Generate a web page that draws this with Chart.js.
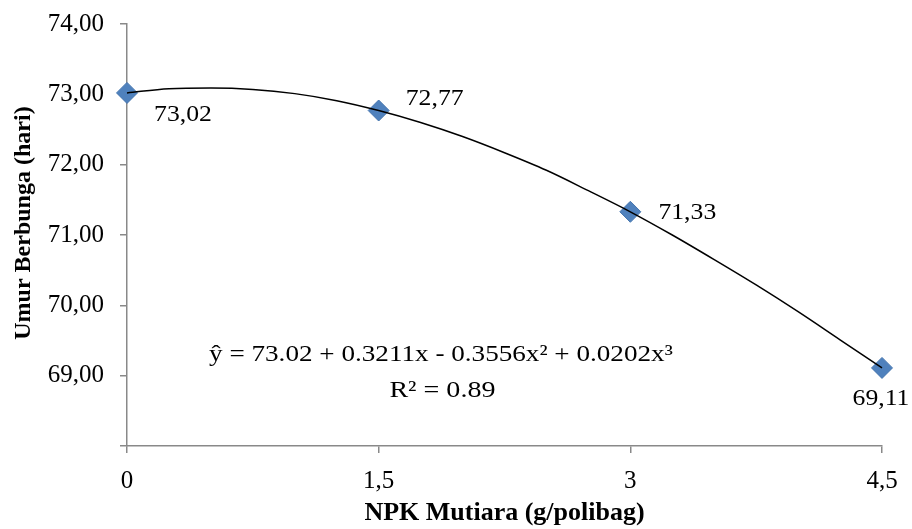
<!DOCTYPE html>
<html><head><meta charset="utf-8">
<script src="https://cdn.jsdelivr.net/npm/chart.js@4/dist/chart.umd.min.js"></script>
<style>html,body{margin:0;padding:0;background:#fff}#wrap{width:912px;height:529px}</style>
</head><body><div id="wrap"><canvas id="c" width="912" height="529"></canvas></div>
<script>
const xValues = [0, 1.5, 3, 4.5];
const xTickLabels = ['0', '1,5', '3', '4,5'];
const yValues = [73.02, 72.77, 71.33, 69.11];
const valueLabels = ['73,02', '72,77', '71,33', '69,11'];
const yTickLabels = {74: '74,00', 73: '73,00', 72: '72,00', 71: '71,00', 70: '70,00', 69: '69,00', 68: ''};
// trend curve points
const trendX = [0, 0.25, 0.5, 0.75, 1, 1.25, 1.5, 1.75, 2, 2.25, 2.5, 2.75, 3, 3.25, 3.5, 3.75, 4, 4.25, 4.5];
const trendY = [73.02, 73.08, 73.09, 73.07, 73.01, 72.91, 72.77, 72.60, 72.40, 72.17, 71.92, 71.63, 71.33, 71.00, 70.65, 70.29, 69.91, 69.51, 69.11];
const equationText = 'ŷ = 73.02 + 0.3211x - 0.3556x² + 0.0202x³';
const r2Text = 'R² = 0.89';
const xTitle = 'NPK Mutiara (g/polibag)';
const yTitle = 'Umur Berbunga (hari)';

const FONT = '"Liberation Serif", "Times New Roman", serif';
const labelOffsets = [[56, 22], [56, -12], [57, 1], [-1, 31]];

function stretchedText(ctx, text, x, y, sx) {
  ctx.save();
  ctx.translate(x, y);
  ctx.scale(sx, 1);
  ctx.fillText(text, 0, 0);
  ctx.restore();
}

const labelPlugin = {
  id: 'labels',
  afterDatasetsDraw(chart) {
    const ctx = chart.ctx;
    const meta = chart.getDatasetMeta(1);
    ctx.save();
    ctx.fillStyle = '#000';
    ctx.font = '24px ' + FONT;
    ctx.textAlign = 'center';
    ctx.textBaseline = 'middle';
    meta.data.forEach((pt, i) => {
      stretchedText(ctx, valueLabels[i], pt.x + labelOffsets[i][0], pt.y + labelOffsets[i][1], 1.07);
    });
    const xs = chart.scales.x, ys = chart.scales.y;
    ctx.font = '23px ' + FONT;
    stretchedText(ctx, equationText, xs.getPixelForValue(1.871), ys.getPixelForValue(69.29), 1.18);
    stretchedText(ctx, r2Text, xs.getPixelForValue(1.88), ys.getPixelForValue(68.78), 1.22);
    // y axis title
    ctx.font = 'bold 24px ' + FONT;
    ctx.translate(24, ys.getPixelForValue(71.17));
    ctx.rotate(-Math.PI / 2);
    ctx.fillText(yTitle, 0, 0);
    ctx.restore();
  }
};

new Chart(document.getElementById('c'), {
  type: 'scatter',
  data: {
    datasets: [
      {
        label: 'trend',
        data: trendX.map((x, i) => ({x: x, y: trendY[i]})),
        showLine: true,
        borderColor: '#000',
        borderWidth: 1.5,
        pointRadius: 0,
        cubicInterpolationMode: 'monotone',
        fill: false,
        clip: false
      },
      {
        label: 'data',
        data: xValues.map((x, i) => ({x: x, y: yValues[i]})),
        pointStyle: 'rectRot',
        pointRadius: 10.5,
        pointBackgroundColor: '#4F81BD',
        pointBorderColor: '#4575AE',
        pointBorderWidth: 1,
        showLine: false,
        clip: false
      }
    ]
  },
  options: {
    responsive: false,
    animation: false,
    devicePixelRatio: 1,
    layout: {padding: {top: 24, right: 30, left: 0, bottom: 0}},
    plugins: {legend: {display: false}, tooltip: {enabled: false}},
    scales: {
      x: {
        type: 'linear', min: 0, max: 4.5,
        afterBuildTicks(s) { s.ticks = xValues.map(v => ({value: v})); },
        afterFit(s) { s.height = 83; },
        ticks: {
          callback: (v) => xTickLabels[xValues.indexOf(v)],
          color: '#000', font: {family: FONT, size: 25}, padding: 13, maxRotation: 0
        },
        grid: {drawOnChartArea: false, drawTicks: true, tickLength: 7, color: '#898989', lineWidth: 1.5},
        border: {color: '#898989', width: 1.5},
        title: {display: true, text: xTitle, color: '#000',
          font: {family: FONT, size: 26, weight: 'bold'}, padding: {top: 0, bottom: 0}}
      },
      y: {
        min: 68, max: 74,
        afterBuildTicks(s) { s.ticks = [68, 69, 70, 71, 72, 73, 74].map(v => ({value: v})); },
        afterFit(s) { s.width = 127; s.paddingTop = 0; s.paddingBottom = 0; },
        ticks: {
          callback: (v) => yTickLabels[v],
          color: '#000', font: {family: FONT, size: 25}, padding: 16
        },
        grid: {drawOnChartArea: false, drawTicks: true, tickLength: 7, color: '#898989', lineWidth: 1.5},
        border: {color: '#898989', width: 1.5},
        title: {display: false}
      }
    }
  },
  plugins: [labelPlugin]
});
</script>
</body></html>
